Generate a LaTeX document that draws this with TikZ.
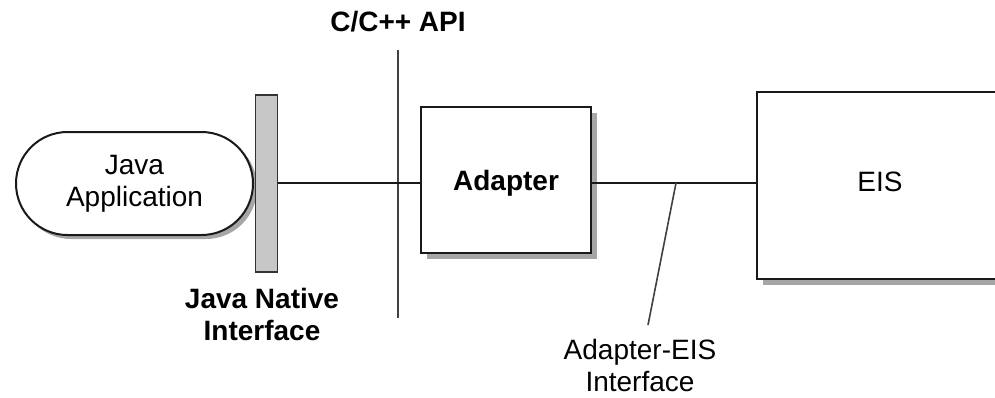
\documentclass[tikz,border=0pt]{standalone}
\usepackage{fontspec}
\setmainfont{Liberation Sans}
\usetikzlibrary{shapes.misc}
\begin{document}
\begin{tikzpicture}[x=1pt,y=-1pt,
  txt/.style={font=\fontsize{28}{32}\selectfont, align=center, inner sep=0pt},
  btxt/.style={txt, font=\fontsize{28}{32}\selectfont\bfseries},
  wire/.style={line width=2.6pt, black!90},
  thin/.style={line width=1.6pt, black!75},
  box/.style={draw=black!90, line width=2pt, fill=white, inner sep=0pt}]
\useasboundingbox (0,0) rectangle (995,397);
% Java application (stadium) with shadow
\fill[black!35, rounded corners=51pt] (20,136) rectangle (257,239);
\node[box, rounded rectangle, minimum width=237pt, minimum height=103pt] (app) at (134.5,183.5) {};
\node[txt] (apptxt) at (134.5,184) {Java\\Application};
% JNI bar
\node[draw=black!80, line width=1.8pt, fill=black!22, minimum width=22pt, minimum height=177pt, inner sep=0pt] (jni) at (266.5,183.5) {};
\node[btxt] (jnitxt) at (262,314) {Java Native\\Interface};
% C/C++ API line
\coordinate (apitop) at (398,50);
\coordinate (apibot) at (398,318);
\draw[thin] (apitop) -- (apibot);
\node[btxt] (apitxt) at (398,22) {C/C++ API};
% Adapter
\fill[black!35] (427,113) rectangle (597,259);
\node[box, minimum width=170pt, minimum height=146pt] (adp) at (506,180) {};
\node[btxt] (adptxt) at (506,183) {Adapter};
% EIS
\fill[black!35] (763,98) rectangle (1000,285);
\node[box, minimum width=240pt, minimum height=187pt] (eis) at (877,185.5) {};
\node[txt] (eistxt) at (880,182) {EIS};
% wires
\draw[wire] (jni.east |- 0,183) -- (adp.west |- 0,183);
\draw[wire] (adp.east |- 0,183) -- (eis.west |- 0,183);
% leader
\coordinate (lead) at (676,183);
\node[txt] (aeis) at (640,365) {Adapter-EIS\\Interface};
\coordinate (leadend) at (648,325);
\draw[thin] (lead) -- (leadend);
\end{tikzpicture}
\end{document}
